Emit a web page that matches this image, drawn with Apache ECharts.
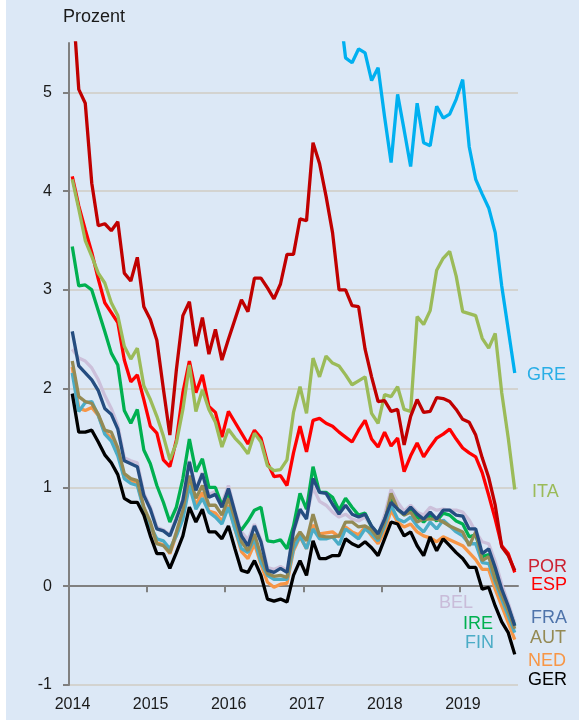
<!DOCTYPE html>
<html>
<head>
<meta charset="utf-8">
<script src="https://cdn.jsdelivr.net/npm/echarts@6/dist/echarts.min.js"></script>
<style>
  html, body { margin: 0; padding: 0; background: #ffffff; }
  #chart { position: absolute; left: 6px; top: 0; width: 573px; height: 720px; background: #dce8f6; }
</style>
</head>
<body>
<div id="chart"></div>
<script>
// monthly values, Jan 2014 .. Sep 2019
var yearLabels = ['2014', '2015', '2016', '2017', '2018', '2019'];

var POR = [6.0, 5.03, 4.89, 4.08, 3.65, 3.67, 3.6, 3.69, 3.17, 3.09, 3.33, 2.83, 2.70, 2.49, 2.0, 1.53, 2.19, 2.74, 2.88, 2.43,
  2.72, 2.35, 2.60, 2.29, 2.50, 2.70, 2.90, 2.78, 3.12, 3.12, 3.02, 2.91, 3.06, 3.36, 3.36, 3.72, 3.70, 4.49, 4.28, 3.95,
  3.58, 3.0, 3.0, 2.84, 2.83, 2.40, 2.12, 1.87, 1.88, 1.77, 1.79, 1.43, 1.72, 1.89, 1.76, 1.77, 1.91, 1.90, 1.87, 1.79,
  1.69, 1.66, 1.53, 1.30, 1.10, 0.82, 0.40, 0.31, 0.16];
var ESP = [4.15, 3.85, 3.61, 3.38, 3.11, 2.87, 2.77, 2.67, 2.29, 2.07, 2.14, 1.89, 1.62, 1.55, 1.28, 1.21, 1.48, 1.96, 2.28, 1.96,
  2.14, 1.82, 1.76, 1.51, 1.77, 1.66, 1.55, 1.44, 1.58, 1.50, 1.25, 1.11, 1.12, 1.02, 1.35, 1.62, 1.36, 1.68, 1.70, 1.65,
  1.62, 1.56, 1.51, 1.46, 1.58, 1.68, 1.49, 1.41, 1.56, 1.42, 1.50, 1.16, 1.32, 1.45, 1.31, 1.41, 1.50, 1.54, 1.59, 1.49,
  1.40, 1.35, 1.31, 1.15, 0.92, 0.68, 0.41, 0.33, 0.14];
var ITA = [4.12, 3.82, 3.50, 3.34, 3.17, 3.07, 2.87, 2.74, 2.43, 2.30, 2.41, 2.03, 1.89, 1.72, 1.52, 1.28, 1.45, 1.79, 2.24, 1.77,
  1.99, 1.79, 1.66, 1.41, 1.59, 1.50, 1.43, 1.34, 1.55, 1.46, 1.22, 1.17, 1.18, 1.28, 1.76, 2.02, 1.75, 2.31, 2.12, 2.33,
  2.26, 2.23, 2.14, 2.04, 2.08, 2.12, 1.75, 1.65, 1.94, 1.92, 2.02, 1.79, 1.77, 2.73, 2.65, 2.79, 3.20, 3.32, 3.39, 3.14,
  2.78, 2.76, 2.74, 2.51, 2.41, 2.56, 1.96, 1.50, 0.98];
var GRE = [null, null, null, null, null, null, null, null, null, null, null, null, null, null, null, null, null, null, null, null,
  null, null, null, null, null, null, null, null, null, null, null, null, null, null, null, null, null, null, null, null,
  null, 5.9, 5.35, 5.30, 5.44, 5.40, 5.12, 5.25, 4.75, 4.29, 4.98, 4.62, 4.25, 4.89, 4.49, 4.46, 4.86, 4.74, 4.78, 4.93,
  5.13, 4.45, 4.12, 3.97, 3.83, 3.58, 3.04, 2.60, 2.16];
var IRE = [3.44, 3.04, 3.05, 3.0, 2.79, 2.58, 2.36, 2.24, 1.78, 1.65, 1.79, 1.38, 1.24, 1.02, 0.85, 0.65, 0.80, 1.09, 1.49, 1.16,
  1.29, 1.00, 1.00, 0.82, 0.95, 0.64, 0.57, 0.66, 0.77, 0.80, 0.46, 0.45, 0.47, 0.38, 0.61, 0.94, 0.78, 1.21, 0.95, 0.95,
  0.90, 0.77, 0.89, 0.80, 0.72, 0.74, 0.60, 0.53, 0.66, 0.88, 0.78, 0.72, 0.78, 0.70, 0.65, 0.72, 0.66, 0.74, 0.72, 0.66,
  0.63, 0.50, 0.52, 0.30, 0.32, 0.13, -0.06, -0.22, -0.40];
var FRA = [2.58, 2.23, 2.16, 2.09, 1.98, 1.80, 1.74, 1.59, 1.27, 1.24, 1.21, 0.92, 0.78, 0.58, 0.56, 0.51, 0.68, 0.87, 1.26, 0.97,
  1.14, 0.90, 0.93, 0.80, 0.99, 0.75, 0.51, 0.41, 0.61, 0.45, 0.16, 0.14, 0.18, 0.14, 0.56, 0.78, 0.68, 1.09, 0.95, 0.94,
  0.83, 0.73, 0.82, 0.73, 0.70, 0.73, 0.61, 0.53, 0.68, 0.85, 0.78, 0.73, 0.80, 0.73, 0.68, 0.75, 0.68, 0.77, 0.77, 0.72,
  0.71, 0.58, 0.58, 0.33, 0.38, 0.19, -0.03, -0.20, -0.40];
var BEL = [2.40, 2.31, 2.28, 2.21, 2.09, 1.93, 1.80, 1.63, 1.30, 1.27, 1.25, 0.94, 0.80, 0.60, 0.57, 0.52, 0.70, 0.88, 1.27, 0.98,
  1.15, 0.93, 0.96, 0.84, 1.02, 0.76, 0.55, 0.47, 0.63, 0.47, 0.19, 0.17, 0.20, 0.16, 0.55, 0.75, 0.70, 1.00, 0.86, 0.82,
  0.75, 0.70, 0.73, 0.68, 0.66, 0.70, 0.60, 0.52, 0.72, 0.98, 0.85, 0.76, 0.82, 0.75, 0.72, 0.80, 0.77, 0.78, 0.77, 0.77,
  0.75, 0.67, 0.55, 0.45, 0.43, 0.25, 0.02, -0.17, -0.37];
var AUT = [2.28, 1.92, 1.87, 1.85, 1.74, 1.58, 1.56, 1.40, 1.14, 1.09, 1.07, 0.80, 0.65, 0.43, 0.41, 0.34, 0.55, 0.77, 1.12, 0.89,
  1.02, 0.82, 0.82, 0.72, 0.89, 0.68, 0.45, 0.36, 0.53, 0.31, 0.13, 0.10, 0.11, 0.09, 0.45, 0.55, 0.46, 0.73, 0.51, 0.50,
  0.50, 0.51, 0.65, 0.65, 0.60, 0.61, 0.57, 0.48, 0.65, 0.94, 0.78, 0.72, 0.75, 0.65, 0.68, 0.68, 0.68, 0.65, 0.61, 0.58,
  0.55, 0.41, 0.55, 0.26, 0.30, 0.07, -0.09, -0.25, -0.43];
var FIN = [2.16, 1.77, 1.86, 1.87, 1.73, 1.54, 1.47, 1.32, 1.09, 1.04, 1.02, 0.78, 0.61, 0.48, 0.46, 0.38, 0.51, 0.68, 1.02, 0.78,
  0.89, 0.75, 0.70, 0.63, 0.80, 0.58, 0.38, 0.34, 0.48, 0.24, 0.11, 0.07, 0.07, 0.07, 0.38, 0.51, 0.38, 0.58, 0.48, 0.48,
  0.50, 0.42, 0.58, 0.53, 0.48, 0.58, 0.53, 0.46, 0.61, 0.82, 0.68, 0.65, 0.70, 0.61, 0.55, 0.65, 0.58, 0.67, 0.61, 0.55,
  0.51, 0.43, 0.43, 0.24, 0.23, 0.04, -0.13, -0.30, -0.47];
var NED = [2.22, 1.80, 1.78, 1.81, 1.73, 1.56, 1.50, 1.36, 1.10, 1.06, 1.04, 0.79, 0.62, 0.44, 0.42, 0.33, 0.52, 0.72, 1.05, 0.82,
  0.95, 0.76, 0.74, 0.66, 0.82, 0.58, 0.35, 0.28, 0.43, 0.22, 0.04, -0.01, 0.02, 0.03, 0.36, 0.50, 0.38, 0.62, 0.53, 0.54,
  0.55, 0.50, 0.60, 0.55, 0.52, 0.60, 0.51, 0.43, 0.56, 0.77, 0.65, 0.60, 0.63, 0.55, 0.51, 0.49, 0.45, 0.50, 0.47, 0.44,
  0.41, 0.34, 0.27, 0.17, 0.17, -0.03, -0.20, -0.37, -0.54];
var GER = [1.95, 1.56, 1.56, 1.58, 1.46, 1.33, 1.25, 1.13, 0.89, 0.85, 0.85, 0.72, 0.51, 0.33, 0.33, 0.18, 0.34, 0.51, 0.80, 0.65,
  0.78, 0.55, 0.55, 0.48, 0.61, 0.38, 0.16, 0.14, 0.26, 0.11, -0.13, -0.15, -0.13, -0.16, 0.11, 0.26, 0.11, 0.46, 0.28, 0.28,
  0.31, 0.31, 0.48, 0.43, 0.40, 0.45, 0.39, 0.31, 0.48, 0.65, 0.63, 0.51, 0.55, 0.41, 0.31, 0.50, 0.36, 0.48, 0.41, 0.34,
  0.28, 0.19, 0.19, -0.03, -0.01, -0.20, -0.36, -0.47, -0.69];

var font = "'Liberation Sans', Arial, sans-serif";

// drawing order: bottom first
var seriesList = [
  {name: 'BEL', data: BEL, color: '#ccc0da'},
  {name: 'IRE', data: IRE, color: '#00b050'},
  {name: 'NED', data: NED, color: '#f79646'},
  {name: 'FIN', data: FIN, color: '#4bacc6'},
  {name: 'AUT', data: AUT, color: '#948a54'},
  {name: 'FRA', data: FRA, color: '#254d80'},
  {name: 'GER', data: GER, color: '#000000'},
  {name: 'ESP', data: ESP, color: '#ff0000'},
  {name: 'ITA', data: ITA, color: '#9bbb59'},
  {name: 'POR', data: POR, color: '#c00000'},
  {name: 'GRE', data: GRE, color: '#00b0f0'}
];

// right-hand labels: [text, x px, y px, colour]
var endLabels = [
  ['GRE', 521, 375, '#29aee6'],
  ['ITA', 526, 492, '#9bbb59'],
  ['POR', 522, 567, '#cc2233'],
  ['ESP', 525, 585, '#ff0000'],
  ['BEL', 433, 603, '#c9bcd9'],
  ['FRA', 525, 618, '#4f74ab'],
  ['IRE', 457, 624, '#00b050'],
  ['AUT', 524, 638, '#948a54'],
  ['FIN', 459, 643, '#4bacc6'],
  ['NED', 522, 661, '#f79646'],
  ['GER', 522, 680, '#000000']
];

var chart = echarts.init(document.getElementById('chart'));

var option = {
  animation: false,
  backgroundColor: 'transparent',
  textStyle: {fontFamily: font},
  title: {
    text: 'Prozent',
    left: 57,
    top: 8,
    padding: 0,
    textStyle: {fontSize: 18, fontWeight: 'normal', color: '#1a1a1a', fontFamily: font}
  },
  grid: {left: 63, right: 61, top: 43, bottom: 35},
  xAxis: [{
    type: 'value',
    position: 'top',
    min: 0,
    max: 69,
    interval: 12,
    axisLine: {onZero: true, lineStyle: {color: '#808080', width: 2}},
    axisTick: {inside: true, length: 6, customValues: [0, 12, 24, 36, 48, 60], lineStyle: {color: '#808080', width: 2}},
    axisLabel: {show: false},
    splitLine: {show: false}
  }, {
    type: 'value',
    position: 'bottom',
    min: 0,
    max: 69,
    interval: 12,
    axisLine: {show: false, onZero: false},
    axisTick: {show: false},
    splitLine: {show: false},
    axisLabel: {
      customValues: [0, 12, 24, 36, 48, 60],
      margin: 12,
      padding: [0, 0, 0, 7],
      fontSize: 16,
      color: '#1a1a1a',
      fontFamily: font,
      formatter: function (v) { return yearLabels[Math.round(v / 12)]; }
    }
  }],
  yAxis: {
    type: 'value',
    min: -1,
    max: 5.5,
    interval: 1,
    axisLine: {show: true, lineStyle: {color: '#808080', width: 2}},
    axisTick: {show: true, length: 6, customValues: [-1, 0, 1, 2, 3, 4, 5], lineStyle: {color: '#808080', width: 2}},
    axisLabel: {customValues: [-1, 0, 1, 2, 3, 4, 5], fontSize: 16, color: '#1a1a1a', margin: 17, fontFamily: font},
    splitLine: {show: true, lineStyle: {color: ['#d3d3d0', '#d3d3d0', '#d3d3d0', '#d3d3d0', '#d3d3d0', '#d3d3d0', '#d3d3d0', 'rgba(0,0,0,0)'], width: 2}}
  },
  series: seriesList.map(function (s) {
    return {
      name: s.name,
      type: 'line',
      xAxisIndex: 0,
      showSymbol: false,
      symbol: 'none',
      clip: true,
      lineStyle: {color: s.color, width: 3.3},
      itemStyle: {color: s.color},
      data: s.data.map(function (v, i) { return [i + 0.5, v]; })
    };
  }),
  graphic: endLabels.map(function (l) {
    return {
      type: 'text',
      x: l[1],
      y: l[2],
      style: {text: l[0], fill: l[3], fontSize: 18, fontFamily: font, verticalAlign: 'middle'}
    };
  })
};

chart.setOption(option);
</script>
</body>
</html>
